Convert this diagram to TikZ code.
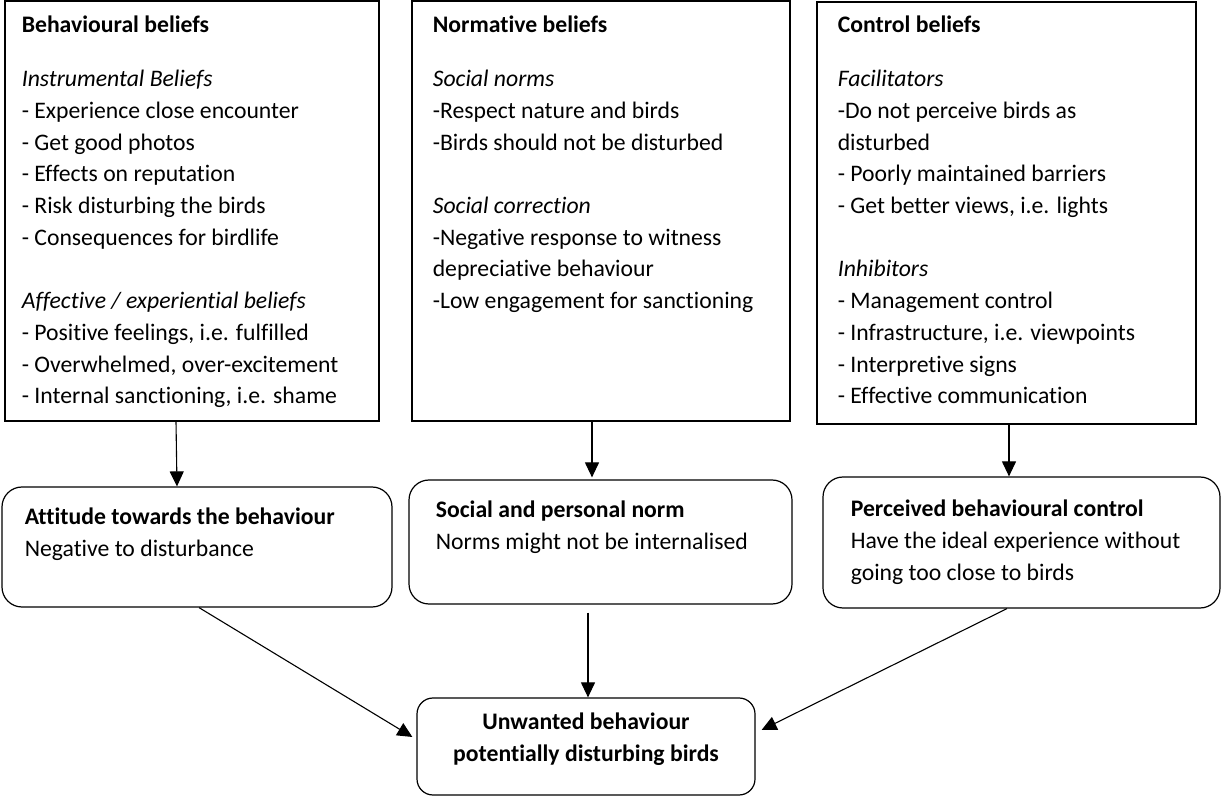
\documentclass[tikz,border=0pt]{standalone}
\usepackage{fontspec}
\setmainfont{Carlito}[Ligatures={NoCommon,NoRequired,NoContextual},Contextuals=NoAlternate]
\usetikzlibrary{positioning,arrows.meta}
\newcommand{\topstrut}{\rule{0pt}{10pt}}

\begin{document}
\begin{tikzpicture}[x=0.5pt,y=-0.5pt,
   box/.style={draw,line width=0.6pt,inner sep=0pt},
   rbox/.style={box,rounded corners=10pt},
   txt/.style={inner sep=0pt,align=left,font=\fontsize{11.85}{15.85}\selectfont},
   arr/.style={line width=0.55pt,-{Triangle[width=7pt,length=7.5pt]}}]
\useasboundingbox (0,0) rectangle (1222,796);

\node[box,minimum width=187pt,minimum height=210pt] (b1) at (192,211) {};
\node[box,minimum width=189pt,minimum height=210pt] (b2) at (601,211) {};
\node[box,minimum width=189.5pt,minimum height=211pt] (b3) at (1006.5,213) {};
\node[rbox,minimum width=195pt,minimum height=60pt] (att) at (197,547) {};
\node[rbox,minimum width=191.5pt,minimum height=62pt] (norm) at (600.5,542) {};
\node[rbox,minimum width=198.5pt,minimum height=65.5pt] (pbc) at (1021.5,542.5) {};
\node[rbox,rounded corners=8pt,minimum width=169pt,minimum height=48.5pt] (goal) at (586,746.5) {};

\node[txt,below right=6pt and 8.5pt of b1.north west] (t1) {\topstrut\textbf{Behavioural beliefs}\\[11.15pt]
  \textit{Instrumental Beliefs}\\
  - Experience close encounter\\
  - Get good photos\\
  - Effects on reputation\\
  - Risk disturbing the birds\\
  - Consequences for birdlife\\[15.85pt]
  \textit{Affective / experiential beliefs}\\
  - Positive feelings, i.e. fulfilled\\
  - Overwhelmed, over-excitement\\
  - Internal sanctioning, i.e. shame};
\node[txt,below right=6pt and 10.5pt of b2.north west] (t2) {\topstrut\textbf{Normative beliefs}\\[11.15pt]
  \textit{Social norms}\\
  -Respect nature and birds\\
  -Birds should not be disturbed\\[15.85pt]
  \textit{Social correction}\\
  -Negative response to witness\\
  depreciative behaviour\\
  -Low engagement for sanctioning};
\node[txt,below right=5.5pt and 10.5pt of b3.north west] (t3) {\topstrut\textbf{Control beliefs}\\[11.15pt]
  \textit{Facilitators}\\
  -Do not perceive birds as\\
  disturbed\\
  - Poorly maintained barriers\\
  - Get better views, i.e. lights\\[15.85pt]
  \textit{Inhibitors}\\
  - Management control\\
  - Infrastructure, i.e. viewpoints\\
  - Interpretive signs\\
  - Effective communication};

\node[txt,below right=9pt and 11.5pt of att.north west] (tatt) {\topstrut\textbf{Attitude towards the behaviour}\\
  Negative to disturbance};
\node[txt,below right=9pt and 13.5pt of norm.north west] (tnorm) {\topstrut\textbf{Social and personal norm}\\
  Norms might not be internalised};
\node[txt,below right=10pt and 14pt of pbc.north west] (tpbc) {\topstrut\textbf{Perceived behavioural control}\\
  Have the ideal experience without\\
  going too close to birds};
\node[txt,align=center,below=6pt of goal.north] (tgoal) {\topstrut\textbf{Unwanted behaviour}\\
  \textbf{potentially disturbing birds}};

\draw[arr] (b1.south -| 176,0) -- (att.north -| 177,0);
\draw[arr] (b2.south -| 592,0) -- ([yshift=1pt]norm.north -| 592,0);
\draw[arr] (b3.south -| 1009,0) -- (pbc.north -| 1009,0);
\draw[arr] (att.south -| 199,0) -- ([xshift=-2pt]goal.west |- 0,737);
\draw[arr,shorten <=4pt] (norm.south -| 588,0) -- (goal.north -| 588,0);
\draw[arr] (pbc.south -| 1007,0) -- ([xshift=3pt]goal.east |- 0,730);
\end{tikzpicture}
\end{document}
